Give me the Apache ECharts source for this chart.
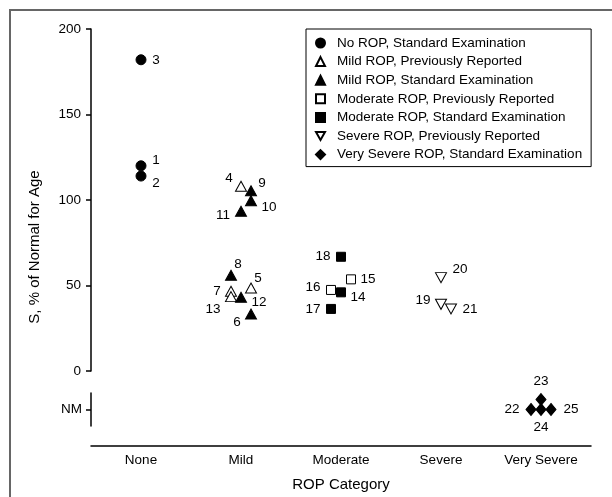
<!DOCTYPE html>
<html><head><meta charset="utf-8">
<script src="https://cdn.jsdelivr.net/npm/echarts@6/dist/echarts.min.js"></script>
<style>html,body{margin:0;padding:0;background:#fff}#c{width:612px;height:497px}</style>
</head><body><div id="c"></div>
<script>
// ---------- DATA ----------
const categories = ['None', 'Mild', 'Moderate', 'Severe', 'Very Severe'];
const yTickValues = [0, 50, 100, 150, 200];
const nmLabel = 'NM';

const seriesNames = [
  'No ROP, Standard Examination',
  'Mild ROP, Previously Reported',
  'Mild ROP, Standard Examination',
  'Moderate ROP, Previously Reported',
  'Moderate ROP, Standard Examination',
  'Severe ROP, Previously Reported',
  'Very Severe ROP, Standard Examination'
];
const seriesCategory = ['None', 'Mild', 'Mild', 'Moderate', 'Moderate', 'Severe', 'Very Severe'];

const noRopStdIds = [1, 2, 3];
const noRopStdValues = [120, 114, 182];
const mildPrevIds = [4, 5, 7, 13];
const mildPrevValues = [108, 48.5, 46.6, 43.5];
const mildStdIds = [6, 8, 9, 10, 11, 12];
const mildStdValues = [33.3, 56, 105.4, 99.6, 93.4, 43.1];
const modPrevIds = [15, 16];
const modPrevValues = [53.6, 47.4];
const modStdIds = [14, 17, 18];
const modStdValues = [46, 36.3, 66.8];
const sevPrevIds = [19, 20, 21];
const sevPrevValues = [39, 54.6, 36.3];
const vSevStdIds = [22, 23, 24, 25];
const vSevStdValues = ['NM', 'NM', 'NM', 'NM'];

const allIds = [noRopStdIds, mildPrevIds, mildStdIds, modPrevIds, modStdIds, sevPrevIds, vSevStdIds];
const allValues = [noRopStdValues, mildPrevValues, mildStdValues, modPrevValues, modStdValues, sevPrevValues, vSevStdValues];

// ---------- DISPLAY (jitter, label placement, markers) ----------
const xJitter = {4:0, 5:0.1, 7:-0.1, 13:-0.1, 6:0.1, 8:-0.1, 9:0.1, 10:0.1, 11:0, 12:0,
  15:0.1, 16:-0.1, 14:0, 17:-0.1, 18:0, 19:0, 20:0, 21:0.1, 22:-0.1, 23:0, 24:0, 25:0.1};
const nmStack = {23: 0.6};
const labelOffset = {
  1:[15,-6], 2:[15,7], 3:[15,1],
  4:[-12,-8], 9:[11,-7], 10:[18,7], 11:[-18,4], 8:[7,-11], 5:[7,-10], 7:[-14,0], 13:[-18,13], 12:[18,5], 6:[-14,8],
  18:[-18,0], 15:[17,0], 16:[-18,-3], 14:[17,5], 17:[-18,0],
  20:[19,-8], 19:[-18,-4], 21:[19,0],
  22:[-19,0], 25:[20,0], 23:[0,-18], 24:[0,18]
};
const DOWN_TRIANGLE = 'path://M0,0L10,0L5,9Z';
const markers = [
  {symbol:'circle', size:10, fill:'#000'},
  {symbol:'triangle', size:[11,10], fill:'#fff'},
  {symbol:'triangle', size:[11,10], fill:'#000'},
  {symbol:'rect', size:9, fill:'#fff'},
  {symbol:'rect', size:9, fill:'#000'},
  {symbol:DOWN_TRIANGLE, size:[11,10], fill:'#fff'},
  {symbol:'diamond', size:[10,12], fill:'#000'}
];

const FONT = "'Liberation Sans', Arial, sans-serif";

const series = seriesNames.map((name, si) => {
  const catIdx = categories.indexOf(seriesCategory[si]);
  const ids = allIds[si], vals = allValues[si];
  const isNM = vals.every(v => v === 'NM');
  const m = markers[si];
  return {
    name, type: 'scatter',
    xAxisIndex: isNM ? 1 : 0, yAxisIndex: isNM ? 1 : 0,
    symbol: m.symbol, symbolSize: m.size,
    itemStyle: {color: m.fill, borderColor: '#000', borderWidth: 1, opacity: 1},
    emphasis: {disabled: true},
    label: {show: true, position: 'inside', color: '#000', fontSize: 13.5, fontFamily: FONT,
      formatter: p => String(p.data.id)},
    data: ids.map((id, i) => ({
      id,
      value: [catIdx + 0.5 + (xJitter[id] || 0), vals[i] === 'NM' ? (nmStack[id] || 0) : vals[i]],
      label: {offset: labelOffset[id] || [0,0]}
    }))
  };
});

const axisLineStyle = {color: '#000', width: 1.5};
const chart = echarts.init(document.getElementById('c'), null, {renderer: 'canvas'});
chart.setOption({
  animation: false,
  textStyle: {fontFamily: FONT},
  grid: [
    {left: 91, top: 29, width: 500, height: 342},
    {left: 91, top: 393, width: 500, height: 33}
  ],
  xAxis: [
    {gridIndex: 0, type: 'value', min: 0, max: 5, show: false},
    {gridIndex: 1, type: 'value', min: 0, max: 5, show: false},
    {gridIndex: 1, type: 'category', data: categories, position: 'bottom', offset: 20, boundaryGap: true,
      axisLine: {lineStyle: axisLineStyle}, axisTick: {length: 4, lineStyle: axisLineStyle},
      axisLabel: {color: '#000', fontSize: 13.5, margin: 7, fontFamily: FONT},
      name: 'ROP Category', nameLocation: 'middle', nameGap: 31,
      nameTextStyle: {color: '#000', fontSize: 15, fontFamily: FONT}}
  ],
  yAxis: [
    {gridIndex: 0, type: 'value', min: yTickValues[0], max: yTickValues[yTickValues.length-1], interval: 50,
      axisLine: {show: true, lineStyle: axisLineStyle}, axisTick: {show: true, length: 5, lineStyle: axisLineStyle},
      axisLabel: {color: '#000', fontSize: 13.5, margin: 10, fontFamily: FONT}, splitLine: {show: false}},
    {gridIndex: 1, type: 'value', min: -1, max: 1, interval: 1,
      axisLine: {show: true, lineStyle: axisLineStyle},
      axisTick: {show: true, length: 5, lineStyle: axisLineStyle, customValues: [0]},
      axisLabel: {color: '#000', fontSize: 13.5, margin: 9, fontFamily: FONT, customValues: [0], formatter: () => nmLabel},
      splitLine: {show: false}}
  ],
  legend: {
    orient: 'vertical', left: 306, top: 29, padding: [6, 9, 4, 9],
    itemWidth: 9, itemHeight: 9, itemGap: 2.6,
    borderColor: '#000', borderWidth: 1, backgroundColor: '#fff',
    textStyle: {color: '#000', fontSize: 13.5, lineHeight: 16, fontFamily: FONT, padding: [0, 0, 0, 7]},
    selectedMode: false,
    data: seriesNames
  },
  graphic: [
    {type: 'rect', shape: {x: 10, y: 10, width: 700, height: 600}, style: {fill: 'none', stroke: '#666', lineWidth: 2}, silent: true},
    {type: 'text', x: 35, y: 247, rotation: Math.PI / 2,
      style: {text: 'S, % of Normal for Age', fill: '#000', fontSize: 15, fontFamily: FONT, align: 'center', verticalAlign: 'middle'}}
  ],
  series
});
</script></body></html>
